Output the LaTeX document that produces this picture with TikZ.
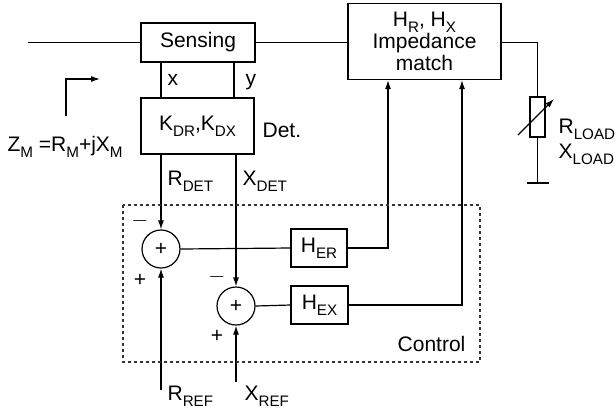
\documentclass[tikz,border=0pt]{standalone}
\usepackage{fontspec}
\setmainfont{Liberation Sans}
\usetikzlibrary{arrows.meta}
\newcommand\sbx[1]{\raisebox{-3.1pt}{\fontsize{7.6}{8}\selectfont #1}}
\begin{document}
\begin{tikzpicture}[x=0.5pt,y=-0.5pt,
  font=\fontsize{10.5}{11}\selectfont,
  line width=0.6pt,
  blk/.style={draw,rectangle,inner sep=0pt,align=center},
  sumn/.style={draw,circle,minimum size=19pt,inner sep=0pt},
  arr/.style={-{Latex[length=4.5pt,width=3pt]}},
  lbl/.style={inner sep=0pt},
  ctrlbox/.style={draw=black!80,dash pattern=on 1.5pt off 1.5pt}]
\useasboundingbox (0,0) rectangle (615,409);
% blocks
\node[blk,minimum width=57pt,minimum height=19.5pt] (sens) at (198,42.5) {Sensing};
\node[blk,minimum width=56.5pt,minimum height=28pt] (det) at (197.5,126) {K\sbx{DR},K\sbx{DX}};
\node[blk,minimum width=76.5pt,minimum height=38pt] (imp) at (424.5,41.5) {H\sbx{R}, H\sbx{X}\\Impedance\\match};
\node[blk,minimum width=28pt,minimum height=19pt] (her) at (319,248) {H\sbx{ER}};
\node[blk,minimum width=28.5pt,minimum height=19pt] (hex) at (319.5,305) {H\sbx{EX}};
\node[sumn] (s1) at (161,249) {+};
\node[sumn] (s2) at (236,306) {+};
\node[draw,minimum width=7.5pt,minimum height=20pt,inner sep=0pt] (res) at (537.5,117) {};
% coordinates
\coordinate (in) at (28,42.5);
\coordinate (sy) at (234,0);
\coordinate (c1) at (537.5,42.5);
\coordinate (gnd) at (537.5,183);
\coordinate (g1) at (527,183);
\coordinate (g2) at (549,183);
\coordinate (fr) at (388,0);
\coordinate (fx) at (462,0);
\coordinate (rref) at (161,390);
\coordinate (xref) at (236,382);
\coordinate (za) at (66,116);
\coordinate (zb) at (100,79);
\coordinate (ra) at (518,135);
\coordinate (rb) at (554,99);
% connectors
\draw (in) -- (sens.west);
\draw (sens.east) -- (sens.east -| imp.west);
\draw (sens.east -| imp.east) -- (c1) -- (res.north);
\draw (res.south) -- (gnd);
\draw (g1) -- (g2);
\draw (sens.south -| s1) -- (det.north -| s1);
\draw (sens.south -| sy) -- (det.north -| sy);
\draw[arr] (det.south -| s1) -- (s1.north);
\draw[arr] (det.south -| s2) -- (s2.north);
\draw (s1.east) -- (her.west);
\draw (s2.east) -- (hex.west);
\draw[arr] (her.east) -| (fr |- imp.south);
\draw[arr] (hex.east) -| (fx |- imp.south);
\draw[arr] (rref) -- (s1.south);
\draw[arr] (xref) -- (s2.south);
\draw[arr] (za) |- (zb);
\draw[arr] (ra) -- (rb);
\draw[ctrlbox] (123,205) rectangle (480,362);
% labels
\node[lbl,anchor=base west] at (167,85) {x};
\node[lbl,anchor=base west] at (245,85) {y};
\node[lbl,anchor=base west] at (167,185) {R\sbx{DET}};
\node[lbl,anchor=base west] at (242,185) {X\sbx{DET}};
\node[lbl,anchor=base west] at (262,137) {Det.};
\node[lbl,anchor=base west] at (7,151) {Z\sbx{M} =R\sbx{M}+jX\sbx{M}};
\node[lbl,anchor=base west] at (558,133) {R\sbx{LOAD}};
\node[lbl,anchor=base west] at (558,158) {X\sbx{LOAD}};
\node[lbl,anchor=base east] at (466,351) {Control};
\node[lbl,anchor=base west] at (167,400) {R\sbx{REF}};
\node[lbl,anchor=base west] at (244,400) {X\sbx{REF}};
\node[lbl] at (140,221) {$-$};
\node[lbl] at (140,280) {+};
\node[lbl] at (217,277) {$-$};
\node[lbl] at (217,336) {+};
\end{tikzpicture}
\end{document}
